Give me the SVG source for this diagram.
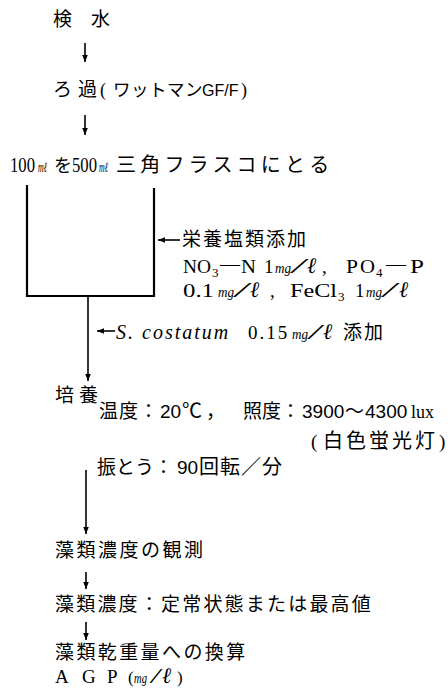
<svg xmlns="http://www.w3.org/2000/svg" width="448" height="697" viewBox="0 0 448 697">
<style>
text{font-family:"Noto Sans CJK JP",sans-serif;font-size:19px;fill:#000}
.s{font-family:"Liberation Serif",serif}
.g{font-family:"Liberation Sans",sans-serif}
.u{font-family:"Liberation Serif",serif;font-style:italic;font-size:14px}
.sl{font-family:"Liberation Serif",serif;font-style:italic;font-size:22px}
.sub{font-family:"Liberation Serif",serif;font-size:13px}
.ln{stroke:#000;stroke-width:1.6;fill:none}
.fl{stroke:#000;stroke-width:2.2;fill:none}
</style>
<defs>
<marker id="ah" viewBox="0 0 10 10" refX="10" refY="5" markerWidth="7" markerHeight="7" markerUnits="userSpaceOnUse" orient="auto">
<path d="M0,1 L10,5 L0,9 z" fill="#000"/>
</marker>
</defs>
<rect width="448" height="697" fill="#fff"/>

<g id="connectors">
<line class="ln" x1="85" y1="43" x2="85" y2="62" marker-end="url(#ah)"/>
<line class="ln" x1="85" y1="115" x2="85" y2="135" marker-end="url(#ah)"/>
<line class="ln" x1="88" y1="296" x2="88" y2="381" marker-end="url(#ah)"/>
<line class="ln" x1="180" y1="240" x2="158" y2="240" marker-end="url(#ah)"/>
<line class="ln" x1="115" y1="331" x2="97" y2="331" marker-end="url(#ah)"/>
<line class="ln" x1="86" y1="470" x2="86" y2="534" marker-end="url(#ah)"/>
<line class="ln" x1="86" y1="572" x2="86" y2="589" marker-end="url(#ah)"/>
<line class="ln" x1="86" y1="622" x2="86" y2="640" marker-end="url(#ah)"/>
</g>

<g id="sample">
<text x="53" y="26" font-size="20">検　水</text>
</g>

<g id="filter">
<text y="96"><tspan x="53">ろ</tspan><tspan x="78">過</tspan><tspan x="100" class="s" font-size="18">(</tspan><tspan x="113" font-size="17.5" letter-spacing="0.5">ワットマン</tspan><tspan x="202" class="g" font-size="16">GF/F</tspan><tspan x="241" class="s" font-size="18">)</tspan></text>
</g>

<g id="take">
<text y="172"><tspan x="10" class="s" font-size="20" textLength="25" lengthAdjust="spacingAndGlyphs">100</tspan><tspan x="38" class="u" font-size="13" textLength="9" lengthAdjust="spacingAndGlyphs">mℓ</tspan><tspan x="54" font-size="18">を</tspan><tspan x="72" class="s" font-size="20" textLength="25" lengthAdjust="spacingAndGlyphs">500</tspan><tspan x="99" class="u" font-size="13" textLength="9" lengthAdjust="spacingAndGlyphs">mℓ</tspan><tspan x="116" font-size="20" letter-spacing="4.2">三角フラスコにとる</tspan></text>
</g>

<g id="flask">
<path class="fl" d="M27,185 V296 H154 V188"/>
</g>

<g id="nutrients">
<text x="182" y="246" letter-spacing="2">栄養塩類添加</text>
<text y="273" class="s" font-size="22"><tspan x="183" textLength="28" lengthAdjust="spacingAndGlyphs">NO</tspan><tspan x="212" y="277" class="sub">3</tspan><tspan x="220" y="271" font-size="20">—</tspan><tspan x="241" y="273" textLength="15" lengthAdjust="spacingAndGlyphs">N</tspan><tspan x="264">1</tspan><tspan x="275" class="u" textLength="16" lengthAdjust="spacingAndGlyphs">mg</tspan><tspan x="292" class="sl" textLength="13" lengthAdjust="spacingAndGlyphs">/</tspan><tspan x="307" class="sl">ℓ</tspan><tspan x="322">,</tspan><tspan x="346" textLength="12" lengthAdjust="spacingAndGlyphs">P</tspan><tspan x="360" textLength="15" lengthAdjust="spacingAndGlyphs">O</tspan><tspan x="376" y="277" class="sub">4</tspan><tspan x="386" y="271" font-size="20">—</tspan><tspan x="410" y="273" textLength="14" lengthAdjust="spacingAndGlyphs">P</tspan></text>
<text y="297" class="s" font-size="22"><tspan x="183" textLength="31" lengthAdjust="spacingAndGlyphs">0.1</tspan><tspan x="218" class="u" textLength="16" lengthAdjust="spacingAndGlyphs">mg</tspan><tspan x="235" class="sl" textLength="13" lengthAdjust="spacingAndGlyphs">/</tspan><tspan x="250" class="sl">ℓ</tspan><tspan x="270">,</tspan><tspan x="290" textLength="47" lengthAdjust="spacingAndGlyphs">FeCl</tspan><tspan x="338" y="301" class="sub">3</tspan><tspan x="355" y="297">1</tspan><tspan x="366" class="u" textLength="16" lengthAdjust="spacingAndGlyphs">mg</tspan><tspan x="383" class="sl" textLength="13" lengthAdjust="spacingAndGlyphs">/</tspan><tspan x="399" class="sl">ℓ</tspan></text>
</g>

<g id="inoculum">
<text y="339"><tspan x="116" class="s" font-size="20" font-style="italic" letter-spacing="2">S. costatum</tspan><tspan x="248" class="s" letter-spacing="2">0.15</tspan><tspan x="292" class="u" textLength="16" lengthAdjust="spacingAndGlyphs">mg</tspan><tspan x="309" class="sl" textLength="12" lengthAdjust="spacingAndGlyphs">/</tspan><tspan x="323" class="sl">ℓ</tspan><tspan x="343" letter-spacing="2">添加</tspan></text>
</g>

<g id="culture">
<text y="402"><tspan x="55">培</tspan><tspan x="79">養</tspan></text>
<text y="418"><tspan x="99" letter-spacing="1">温度：</tspan><tspan x="160" class="g">20</tspan><tspan x="182" font-size="20">℃</tspan><tspan x="206">，</tspan><tspan x="243">照度：</tspan><tspan x="302" class="g">3900</tspan><tspan x="345">〜</tspan><tspan x="365" class="g">4300</tspan><tspan x="411" class="s" font-size="18">lux</tspan></text>
<text y="448"><tspan x="311" class="s">(</tspan><tspan x="323" font-size="20" letter-spacing="3">白色蛍光灯</tspan><tspan x="439" class="s">)</tspan></text>
<text y="474"><tspan x="97">振とう：</tspan><tspan x="177" class="g">90</tspan><tspan x="199" font-size="20" letter-spacing="1">回転／分</tspan></text>
</g>

<g id="observe">
<text x="55" y="557" letter-spacing="2.5">藻類濃度の観測</text>
</g>

<g id="concentration">
<text x="55" y="611" letter-spacing="2.2">藻類濃度：定常状態または最高値</text>
</g>

<g id="convert">
<text x="55" y="659" letter-spacing="2.4">藻類乾重量への換算</text>
<text y="683" class="s" font-size="20"><tspan x="55">A</tspan><tspan x="82">G</tspan><tspan x="107">P</tspan><tspan x="128" font-size="17">(</tspan><tspan x="134" class="u" textLength="13" lengthAdjust="spacingAndGlyphs">mg</tspan><tspan x="151" class="sl" textLength="9" lengthAdjust="spacingAndGlyphs">/</tspan><tspan x="162" class="sl">ℓ</tspan><tspan x="177" font-size="17">)</tspan></text>
</g>
</svg>
